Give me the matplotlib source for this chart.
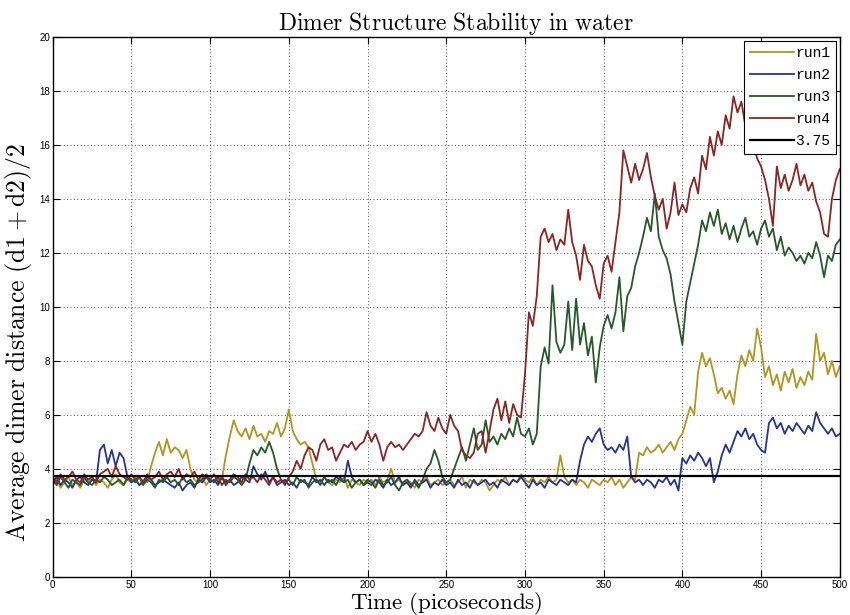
import numpy as np
import matplotlib
matplotlib.use('Agg')
import matplotlib.pyplot as plt

plt.rcParams['mathtext.fontset'] = 'cm'

# sampling grid of the trajectories (ps)
time_ps = np.arange(0, 500.1, 2.5)

# average dimer distance per run, one row = 25 ps
run1 = [3.4, 3.6, 3.3, 3.5, 3.7, 3.4, 3.5, 3.3, 3.6, 3.5,
        3.7, 3.4, 3.6, 3.5, 3.3, 3.6, 3.8, 3.5, 3.4, 3.6,
        3.5, 3.7, 3.4, 3.6, 3.5, 4.1, 4.6, 5.0, 4.5, 5.1,
        4.6, 4.8, 4.7, 4.4, 4.7, 4.0, 3.6, 3.5, 3.7, 3.4,
        3.6, 3.5, 3.7, 3.6, 4.5, 5.2, 5.8, 5.4, 5.2, 5.5,
        5.1, 5.6, 5.2, 5.3, 5.0, 5.4, 5.3, 5.7, 5.2, 5.5,
        6.2, 5.4, 5.1, 4.9, 5.0, 4.8, 4.2, 3.6, 3.5, 3.7,
        3.5, 3.4, 3.6, 3.5, 3.7, 3.3, 3.6, 3.5, 3.4, 3.6,
        3.5, 3.6, 3.4, 3.7, 3.5, 3.6, 4.0, 3.5, 3.6, 3.4,
        3.6, 3.5, 3.3, 3.6, 3.5, 3.7, 3.4, 3.5, 3.6, 3.4,
        3.5, 3.6, 3.4, 3.5, 3.7, 3.3, 3.6, 3.5, 3.4, 3.6,
        3.5, 3.2, 3.4, 3.6, 3.5, 3.7, 3.4, 3.6, 3.5, 3.8,
        3.6, 3.5, 3.7, 3.4, 3.6, 3.5, 3.7, 3.5, 3.6, 4.5,
        3.7, 3.5, 3.6, 3.4, 3.6, 3.5, 3.3, 3.6, 3.5, 3.4,
        3.6, 3.5, 3.7, 3.4, 3.6, 3.3, 3.5, 3.7, 3.6, 4.6,
        4.5, 4.8, 4.6, 4.7, 4.9, 4.6, 4.8, 5.0, 4.7, 5.1,
        5.3, 5.8, 6.3, 6.0, 7.6, 8.3, 7.8, 8.1, 7.5, 6.8,
        7.0, 6.6, 6.9, 6.4, 7.5, 8.2, 7.8, 8.4, 8.0, 9.2,
        8.5, 7.4, 7.8, 7.1, 7.5, 6.9, 7.6, 7.2, 7.7, 7.0,
        7.4, 7.1, 7.6, 7.3, 9.0, 8.0, 8.3, 7.5, 8.0, 7.4,
        7.8]

run2 = [3.5, 3.7, 3.4, 3.6, 3.5, 3.3, 3.6, 3.7, 3.5, 3.4,
        3.6, 3.5, 4.7, 4.9, 4.2, 4.7, 4.1, 4.6, 4.4, 3.7,
        3.5, 3.6, 3.4, 3.5, 3.7, 3.6, 3.4, 3.5, 3.6, 3.5,
        3.4, 3.3, 3.5, 3.2, 3.4, 3.5, 3.3, 3.6, 3.5, 3.7,
        3.5, 3.6, 3.4, 3.7, 3.5, 3.6, 3.4, 3.5, 3.7, 3.6,
        3.5, 4.1, 3.8, 3.6, 3.9, 3.5, 3.7, 3.4, 3.5, 3.6,
        3.4, 3.5, 3.3, 3.6, 3.5, 3.4, 3.7, 3.5, 3.6, 3.4,
        3.6, 3.5, 3.7, 3.6, 3.5, 4.3, 3.7, 3.5, 3.6, 3.4,
        3.5, 3.4, 3.6, 3.5, 3.3, 3.6, 3.4, 3.5, 3.7, 3.4,
        3.5, 3.3, 3.6, 3.4, 3.5, 3.6, 3.3, 3.5, 3.4, 3.6,
        3.4, 3.5, 3.3, 3.6, 3.4, 3.5, 3.3, 3.6, 3.4, 3.5,
        3.6, 3.4, 3.5, 3.3, 3.6, 3.5, 3.4, 3.6, 3.5, 3.7,
        3.5, 3.3, 3.6, 3.4, 3.5, 3.3, 3.6, 3.5, 3.4, 3.6,
        3.5, 3.4, 3.6, 3.5, 4.3, 4.9, 5.2, 5.0, 5.3, 5.5,
        4.9, 4.7, 4.8, 4.6, 4.9, 4.7, 5.2, 3.7, 3.5, 3.6,
        3.4, 3.6, 3.5, 3.3, 3.6, 3.5, 3.7, 3.4, 3.6, 3.2,
        4.4, 4.2, 4.5, 4.3, 4.6, 4.4, 4.1, 4.4, 3.5, 3.9,
        4.5, 4.9, 4.6, 5.0, 5.4, 5.2, 5.5, 5.1, 5.3, 4.9,
        4.7, 4.6, 5.7, 5.9, 5.5, 5.7, 5.3, 5.6, 5.4, 5.7,
        5.5, 5.3, 5.6, 5.4, 6.1, 5.7, 5.5, 5.3, 5.5, 5.2,
        5.3]

run3 = [3.6, 3.4, 3.7, 3.5, 3.3, 3.6, 3.5, 3.4, 3.7, 3.5,
        3.4, 3.6, 3.5, 3.7, 3.6, 3.4, 3.5, 3.6, 3.4, 3.7,
        3.6, 3.5, 3.7, 3.4, 3.6, 3.5, 3.3, 3.6, 3.5, 3.7,
        3.5, 3.6, 3.4, 3.7, 3.5, 3.6, 3.4, 3.5, 3.6, 3.8,
        3.6, 3.5, 3.7, 3.4, 3.6, 3.5, 3.7, 3.6, 3.4, 3.6,
        4.2, 4.7, 4.5, 4.8, 4.6, 5.0, 4.6, 4.0, 3.6, 3.5,
        3.6, 3.4, 3.7, 3.5, 3.6, 3.3, 3.5, 3.6, 3.4, 3.7,
        3.5, 3.6, 3.4, 3.7, 3.5, 3.6, 3.3, 3.5, 3.6, 3.4,
        3.6, 3.5, 3.3, 3.6, 3.4, 3.5, 3.7, 3.4, 3.2, 3.5,
        3.6, 3.4, 3.5, 3.3, 3.6, 4.0, 4.2, 4.7, 4.3, 3.7,
        3.5, 3.6, 4.0, 4.4, 4.8, 4.3, 4.9, 5.5, 4.7, 4.9,
        5.8, 5.0, 5.2, 4.9, 5.3, 5.1, 5.5, 5.2, 5.9, 5.3,
        5.2, 5.5, 4.9, 5.3, 7.8, 8.5, 7.9, 10.8, 8.7, 8.3,
        8.6, 10.2, 8.4, 10.3, 8.6, 9.4, 8.2, 8.9, 7.2, 8.5,
        9.3, 9.7, 9.2, 9.8, 11.1, 9.1, 10.4, 10.7, 11.5, 12.0,
        12.6, 13.3, 12.8, 14.2, 12.6, 12.1, 11.8, 11.2, 10.2, 9.4,
        8.6, 10.2, 10.9, 11.6, 12.3, 13.2, 12.8, 13.5, 13.0, 13.6,
        12.7, 13.1, 12.5, 13.0, 12.4, 12.9, 13.3, 12.6, 12.8, 12.3,
        12.9, 13.2, 12.6, 12.9, 12.1, 12.6, 11.9, 12.2, 12.0, 11.7,
        11.9, 11.6, 12.0, 11.8, 12.4, 11.9, 11.1, 11.9, 11.7, 12.3,
        12.5]

run4 = [3.7, 3.5, 3.8, 3.6, 3.7, 3.9, 3.6, 3.5, 3.8, 3.6,
        3.7, 3.5, 3.8, 3.9, 4.0, 3.7, 4.1, 3.8, 3.7, 3.6,
        3.8, 3.6, 3.7, 3.5, 3.8, 3.6, 3.7, 3.9, 3.6, 3.8,
        3.9, 3.7, 4.0, 3.6, 3.8, 3.7, 3.9, 3.6, 3.8, 3.7,
        3.6, 3.8, 3.5, 3.7, 3.4, 3.6, 3.8, 3.7, 3.5, 3.8,
        3.6, 3.7, 3.5, 3.8, 3.6, 3.4, 3.7, 3.5, 3.6, 3.4,
        3.7, 3.9, 4.3, 4.0, 4.5, 4.8, 4.7, 4.3, 4.9, 5.1,
        4.7, 4.8, 4.3, 4.6, 4.9, 4.8, 5.0, 4.7, 4.9, 5.0,
        5.4, 5.0, 5.3, 4.9, 4.3, 4.8, 5.0, 4.8, 4.9, 4.7,
        4.9, 5.1, 5.3, 5.2, 5.4, 6.1, 5.6, 5.4, 5.9, 5.5,
        5.3, 6.0, 5.6, 5.4, 4.7, 4.5, 4.4, 4.6, 5.3, 5.4,
        4.6, 5.4, 6.2, 6.6, 5.8, 6.5, 5.7, 6.4, 6.0, 5.9,
        7.5, 9.8, 9.3, 10.4, 12.6, 12.9, 12.4, 12.7, 12.1, 12.5,
        12.3, 13.6, 12.4, 11.9, 11.0, 12.3, 11.7, 11.5, 10.8, 10.3,
        11.6, 11.9, 11.3, 12.4, 13.5, 15.8, 15.2, 14.6, 15.3, 14.7,
        15.1, 15.7, 14.8, 14.1, 13.6, 14.0, 12.9, 13.5, 14.6, 13.4,
        13.8, 13.5, 14.4, 14.8, 14.2, 15.6, 15.1, 16.3, 15.6, 16.5,
        16.0, 17.1, 16.6, 17.8, 17.2, 17.6, 16.7, 16.9, 16.1, 15.5,
        15.2, 14.7, 14.0, 13.0, 15.2, 14.4, 14.9, 14.3, 14.7, 15.3,
        14.5, 14.9, 14.3, 14.6, 13.9, 13.5, 12.7, 12.6, 14.0, 14.7,
        15.1]

threshold = 3.75

series = [('run1', run1, '#b09522'),
          ('run2', run2, '#26348f'),
          ('run3', run3, '#27582a'),
          ('run4', run4, '#8a2522')]

fig = plt.figure(figsize=(8.5, 6.15), dpi=100)
ax = fig.add_axes([0.062, 0.062, 0.926, 0.878])

for name, vals, col in series:
    ax.plot(time_ps, vals, color=col, lw=1.3, label=name)
ax.axhline(threshold, color='black', lw=1.6, label='3.75')

ax.set_xlim(0, 500)
ax.set_ylim(0, 20)
ax.set_xticks(np.arange(0, 501, 50))
ax.set_yticks(np.arange(0, 21, 2))
ax.tick_params(direction='in', length=5, top=True, right=True,
               labelsize=7, pad=2)
for lbl in ax.get_xticklabels() + ax.get_yticklabels():
    lbl.set_family('Liberation Sans')
ax.grid(True, color='#555555', linestyle=(0, (1, 2.5)), linewidth=0.7)
for sp in ax.spines.values():
    sp.set_linewidth(1.0)

ax.set_title(r'$\mathrm{Dimer\ Structure\ Stability\ in\ water}$', fontsize=17, pad=5, x=0.512)
ax.set_xlabel(r'$\mathrm{Time\ (picoseconds)}$', fontsize=16.5, labelpad=0)
ax.set_ylabel(r'$\mathrm{Average\ dimer\ distance\ (d1+d2)/2}$', fontsize=18.5)
ax.yaxis.set_label_coords(-0.024, 0.435)

leg = ax.legend(loc='upper right', prop={'family': 'Liberation Mono', 'size': 10.5},
                handlelength=3.0, handletextpad=0.1, labelspacing=0.55,
                borderpad=0.4, fancybox=False, framealpha=1,
                edgecolor='black', borderaxespad=0.25)
leg.get_frame().set_linewidth(0.8)

fig.savefig('out.png', dpi=100)
